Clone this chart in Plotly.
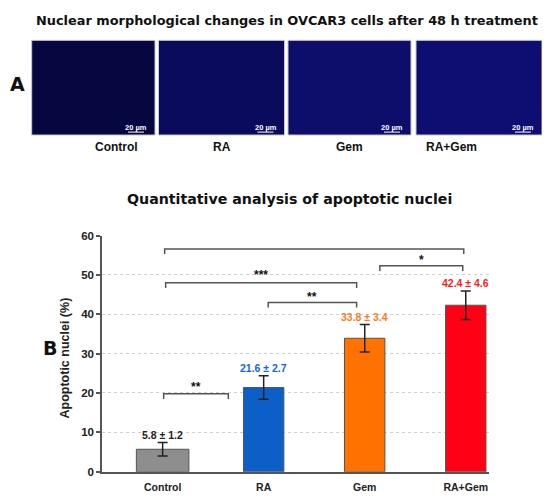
import plotly.graph_objects as go

# ---------------- data ----------------
categories = ["Control", "RA", "Gem", "RA+Gem"]
mean_values = [5.7, 21.4, 33.9, 42.3]
error_values = [1.7, 3.0, 3.5, 3.6]
value_labels = ["5.8 ± 1.2", "21.6 ± 2.7", "33.8 ± 3.4", "42.4 ± 4.6"]
y_ticks = [0, 10, 20, 30, 40, 50, 60]
panel_labels = ["Control", "RA", "Gem", "RA+Gem"]
scale_bar_text = "20 µm"

# significance comparisons: (left x, right x, bracket height, label, label y)
brackets = [
    (0.01, 0.65, 19.8, "**", 21.5),
    (1.045, 1.92, 43.0, "**", 44.4),
    (0.03, 1.92, 48.0, "***", 49.9),
    (2.15, 2.97, 52.3, "*", 53.8),
    (0.02, 2.98, 56.6, "***", 61.1),
]

# ---------------- styles ----------------
bar_colors = ["#8e8e8e", "#0b5fc6", "#ff7200", "#ff0014"]
label_colors = ["#222222", "#1565d8", "#ff7a1a", "#ff1a1a"]
bar_widths = [0.52, 0.40, 0.40, 0.40]
FONT = "Liberation Sans, Arial, sans-serif"
TFONT = "DejaVu Sans, Liberation Sans, sans-serif"

W, H = 550, 499
OFF = 8  # page margin offset


def px(s):
    return (s - OFF) / W


def py(s):
    return 1 - (s - OFF) / H


x_positions = list(range(len(categories)))

fig = go.Figure()
fig.add_trace(go.Bar(
    x=x_positions, y=mean_values, width=bar_widths,
    marker=dict(color=bar_colors, line=dict(color="#555555", width=1)),
    error_y=dict(type="data", array=error_values, visible=True,
                 color="#222222", thickness=1.5, width=5),
    showlegend=False, hoverinfo="skip",
))

annotations = []
shapes = []

# value labels above error bars
for xi, m, e, t, c in zip(x_positions, mean_values, error_values, value_labels, label_colors):
    annotations.append(dict(x=xi, y=m + e, xref="x", yref="y", text=f"<b>{t}</b>",
                            showarrow=False, yanchor="bottom", yshift=0,
                            font=dict(family=FONT, size=10.5, color=c)))

# significance brackets
drop = 1.3
for x0, x1, h, lab, ty in brackets:
    shapes.append(dict(type="path", xref="x", yref="y",
                       path=f"M {x0},{h - drop} L {x0},{h} L {x1},{h} L {x1},{h - drop}",
                       line=dict(color="#555555", width=1.5)))
    annotations.append(dict(x=(x0 + x1) / 2, y=ty, xref="x", yref="y", text=f"<b>{lab}</b>",
                            showarrow=False, yanchor="middle",
                            font=dict(family=FONT, size=12, color="#111111")))

# ---------------- panel A: image placeholders ----------------
img_boxes = [(31.7, 155), (158.5, 284.5), (288, 411), (416, 542)]
img_fill = ["#060640", "#0b0b5e", "#0d0d6c", "#0e0e72"]
img_top, img_bot = 35, 132
for (l, r), fc, lab in zip(img_boxes, img_fill, panel_labels):
    shapes.append(dict(type="rect", xref="paper", yref="paper",
                       x0=px(l), x1=px(r), y0=py(img_bot), y1=py(img_top),
                       fillcolor=fc, line=dict(color="#c8c8c8", width=1), layer="below"))
    # scale bar
    shapes.append(dict(type="line", xref="paper", yref="paper",
                       x0=px(r - 27), x1=px(r - 11), y0=py(129), y1=py(129),
                       line=dict(color="white", width=1)))
    annotations.append(dict(x=px(r - 19), y=py(124.5), xref="paper", yref="paper",
                            text=f"<b>{scale_bar_text}</b>", showarrow=False,
                            xanchor="center", yanchor="middle",
                            font=dict(family=FONT, size=7.5, color="white")))
    annotations.append(dict(x=px((l + r) / 2), y=py(144), xref="paper", yref="paper",
                            text=f"<b>{lab}</b>", showarrow=False, yanchor="middle",
                            font=dict(family=FONT, size=12, color="#111111")))

# titles and panel letters
annotations += [
    dict(x=px(287), y=py(15), xref="paper", yref="paper", showarrow=False,
         text="<b>Nuclear morphological changes in OVCAR3 cells after 48 h treatment</b>",
         yanchor="middle", font=dict(family=TFONT, size=12.9, color="#111111")),
    dict(x=px(289.5), y=py(198), xref="paper", yref="paper", showarrow=False,
         text="<b>Quantitative analysis of apoptotic nuclei</b>",
         yanchor="middle", font=dict(family=TFONT, size=14.2, color="#111111")),
    dict(x=0, y=py(80), xref="paper", yref="paper", showarrow=False, xanchor="left",
         text="<b>A</b>", yanchor="middle", font=dict(family=TFONT, size=19, color="#111111")),
    dict(x=px(40.5), y=py(350), xref="paper", yref="paper", showarrow=False,
         text="<b>B</b>", yanchor="middle", font=dict(family=TFONT, size=19, color="#111111")),
    dict(x=px(65), y=py(361), xref="paper", yref="paper", showarrow=False,
         text="<b>Apoptotic nuclei (%)</b>", textangle=-90, xanchor="center", yanchor="middle",
         font=dict(family=FONT, size=12.5, color="#222222")),
]

fig.update_layout(
    width=W, height=H, margin=dict(l=0, r=0, t=0, b=0),
    paper_bgcolor="white", plot_bgcolor="white",
    font=dict(family=FONT, color="#222222"),
    xaxis=dict(domain=[px(102), px(489)], range=[-0.6, 3.23],
               tickvals=x_positions, ticktext=[f"<b>{c}</b>" for c in categories],
               tickfont=dict(family=FONT, size=10.5, color="#222222"),
               showline=True, linecolor="#555555", linewidth=1.5,
               showgrid=False, zeroline=False, ticks="", ticklabelstandoff=5),
    yaxis=dict(domain=[py(477), py(235)], range=[0, 60],
               tickvals=y_ticks, ticktext=[f"<b>{v}</b>" for v in y_ticks],
               tickfont=dict(family=FONT, size=11.5, color="#222222"),
               showline=True, linecolor="#555555", linewidth=1.5,
               ticks="outside", ticklen=4, tickcolor="#555555", tickwidth=1.5,
               showgrid=True, gridcolor="#d0d0d0", griddash="dot", gridwidth=1,
               zeroline=False),
    annotations=annotations, shapes=shapes, bargap=0.5,
)

fig.write_html("out.html")
